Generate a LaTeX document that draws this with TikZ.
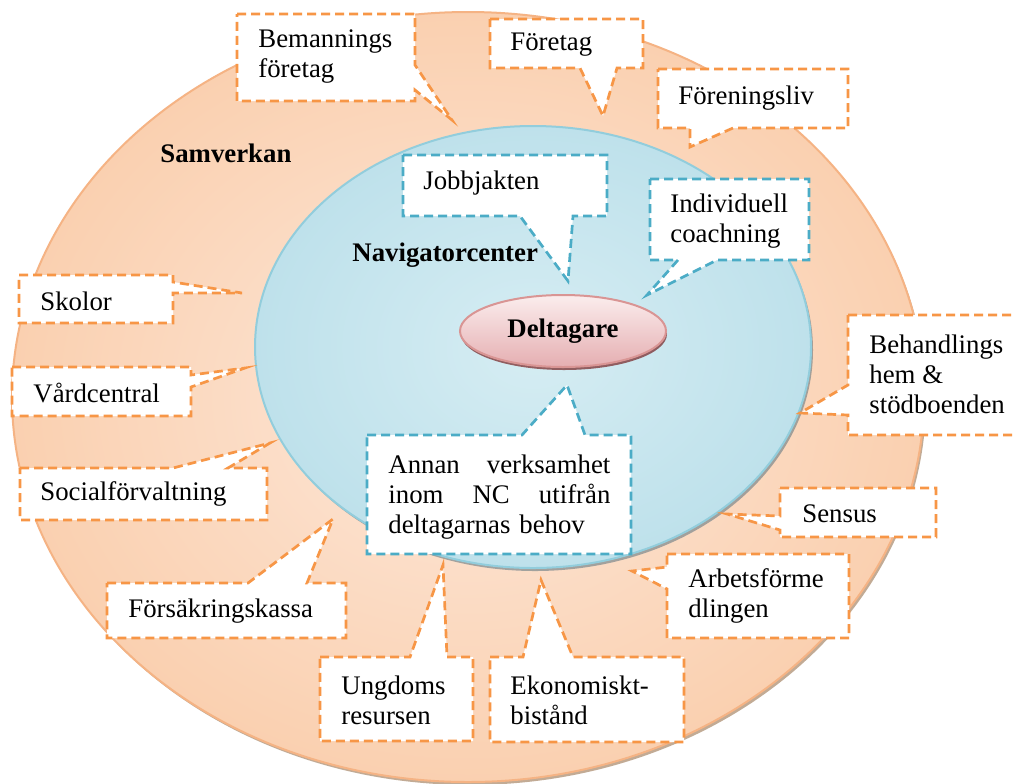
\documentclass[tikz,border=0pt]{standalone}
\usepackage{fontspec}
\setmainfont{Liberation Serif}
\usetikzlibrary{shapes.geometric}
\definecolor{corange}{HTML}{F79646}
\definecolor{cblue}{HTML}{4BACC6}
\definecolor{outerin}{HTML}{FDE8DA}
\definecolor{outerout}{HTML}{FAD0B0}
\definecolor{outerline}{HTML}{F5B384}
\definecolor{innerin}{HTML}{D6EDF3}
\definecolor{innerout}{HTML}{BEE1EB}
\definecolor{innerline}{HTML}{92CDDC}
\definecolor{pinktop}{HTML}{FBEDED}
\definecolor{pinkbot}{HTML}{E5AEB1}
\definecolor{pinkline}{HTML}{D99594}
\begin{document}
\begin{tikzpicture}[x=0.5pt,y=-0.5pt,
  ocall/.style={draw=corange, fill=white, line width=1.35pt, dash pattern=on 4.5pt off 2.5pt, line join=miter},
  bcall/.style={draw=cblue, fill=white, line width=1.35pt, dash pattern=on 4.5pt off 2.5pt, line join=miter},
  lbl/.style={font=\fontsize{13.4}{15}\selectfont, inner sep=0pt, anchor=west, align=left},
  blbl/.style={font=\fontsize{13.4}{15}\selectfont\bfseries, inner sep=0pt, anchor=west, align=left}]
\useasboundingbox (0,0) rectangle (1016,783);
\fill[white] (0,0) rectangle (1016,783);
% outer ellipse (Samverkan)
\fill[brown!70!black, opacity=0.5] (470,400) ellipse [x radius=228pt, y radius=192.5pt];
\shade[inner color=outerin, outer color=outerout, draw=outerline, line width=1pt] (468,397) ellipse [x radius=228pt, y radius=192.5pt];
% inner ellipse (Navigatorcenter)
\fill[cyan!40!black, opacity=0.5] (535,350) ellipse [x radius=139pt, y radius=110.5pt];
\shade[inner color=innerin, outer color=innerout, draw=innerline, line width=1pt] (533,347) ellipse [x radius=139pt, y radius=110.5pt];
% central participant
\fill[red!40!black, opacity=0.6] (564,334) ellipse [x radius=51.5pt, y radius=18pt];
\node[ellipse, minimum width=103pt, minimum height=36pt, inner sep=0pt, top color=pinktop, bottom color=pinkbot, draw=pinkline, line width=1pt,
  font=\fontsize{13.4}{15}\selectfont\bfseries] (delt) at (563,331) {Deltagare};
% labels
\node[blbl] (samv) at (160,153) {Samverkan};
\node[blbl] (navc) at (352,255) {Navigatorcenter};
% orange callouts
\draw[ocall] (237,14) -- (415,14) -- (415,65) -- (452,120) -- (415,90) -- (415,101) -- (237,101) -- cycle;
\node[lbl] (bem) at (258,57) {Bemannings\\företag};
\draw[ocall] (490,19) -- (643,19) -- (643,68) -- (617,68) -- (603,116) -- (580,68) -- (490,68) -- cycle;
\node[lbl] (foret) at (510,45) {Företag};
\draw[ocall] (658,69) -- (848,69) -- (848,128) -- (733,128) -- (690,147) -- (690,128) -- (658,128) -- cycle;
\node[lbl] (foren) at (678,98) {Föreningsliv};
\draw[ocall] (19,275) -- (173,275) -- (173,282) -- (242,293) -- (173,293) -- (173,323) -- (19,323) -- cycle;
\node[lbl] (skol) at (40,301) {Skolor};
\draw[ocall] (12,367) -- (191,367) -- (191,375) -- (245,368) -- (191,387) -- (191,416) -- (12,416) -- cycle;
\node[lbl] (vard) at (33,393) {Vårdcentral};
\draw[ocall] (20,468) -- (173,468) -- (270,443) -- (228,468) -- (267,468) -- (267,520) -- (20,520) -- cycle;
\node[lbl] (soc) at (40,494) {Socialförvaltning};
\draw[ocall] (107,583) -- (248,583) -- (333,519) -- (307,583) -- (346,583) -- (346,638) -- (107,638) -- cycle;
\node[lbl] (fk) at (128,611) {Försäkringskassa};
\draw[ocall] (320,657) -- (410,657) -- (443,565) -- (447,657) -- (473,657) -- (473,741) -- (320,741) -- cycle;
\node[lbl] (ung) at (341,700) {Ungdoms\\resursen};
\draw[ocall] (490,657) -- (523,657) -- (541,580) -- (573,657) -- (684,657) -- (684,742) -- (490,742) -- cycle;
\node[lbl] (eko) at (510,700) {Ekonomiskt-\\bistånd};
\draw[ocall] (667,554) -- (849,554) -- (849,638) -- (667,638) -- (667,589) -- (632,571) -- (667,567) -- cycle;
\node[lbl] (arb) at (688,596) {Arbetsförme\\dlingen};
\draw[ocall] (780,488) -- (936,488) -- (936,537) -- (780,537) -- (780,530) -- (727,514) -- (780,516) -- cycle;
\node[lbl] (sens) at (802,514) {Sensus};
\draw[ocall] (848,315) -- (1024,315) -- (1024,435) -- (848,435) -- (848,415) -- (800,413) -- (848,385) -- cycle;
\node[lbl] (beh) at (869,374) {Behandlings\\hem \&\\stödboenden};
% blue callouts
\draw[bcall] (403,155) -- (607,155) -- (607,216) -- (573,216) -- (568,281) -- (520,216) -- (403,216) -- cycle;
\node[lbl] (jobb) at (423,183) {Jobbjakten};
\draw[bcall] (650,179) -- (809,179) -- (809,260) -- (717,260) -- (647,295) -- (678,260) -- (650,260) -- cycle;
\node[lbl] (indiv) at (670,221) {Individuell\\coachning};
\draw[bcall] (367,435) -- (522,435) -- (567,385) -- (585,435) -- (631,435) -- (631,554) -- (367,554) -- cycle;
\node[lbl, text width=111pt] (annan) at (388,497) {Annan\hfill verksamhet\\inom\hfill NC\hfill utifrån\\deltagarnas behov};
\end{tikzpicture}
\end{document}
